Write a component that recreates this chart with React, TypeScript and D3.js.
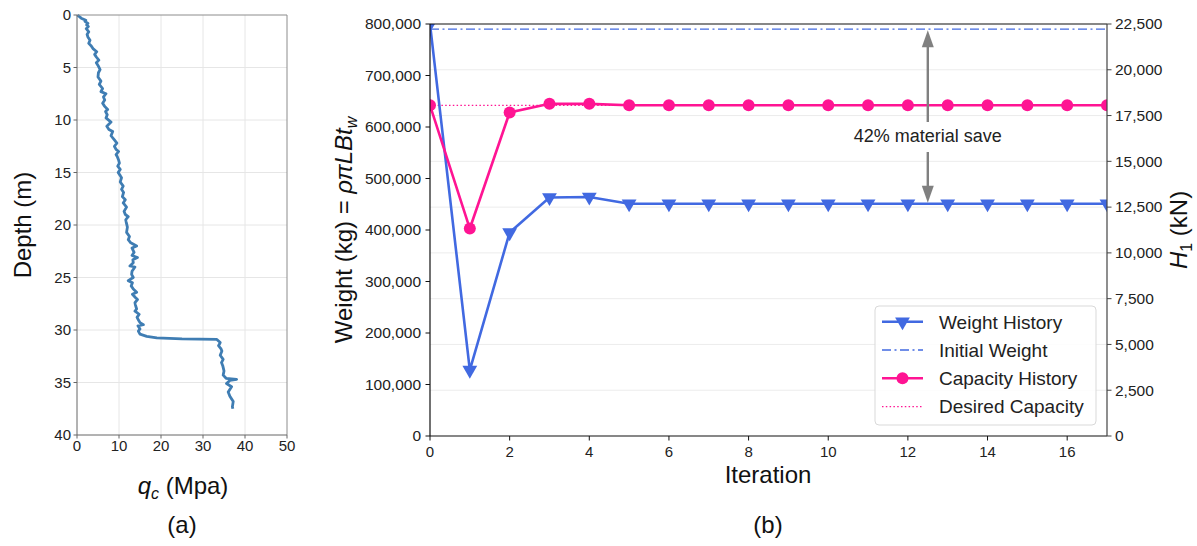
import React from 'react';
import * as d3 from 'd3';

// (a) CPT profile
const cptDepth = [
  0, 0.3, 0.5, 0.6, 0.8, 0.95, 1.1, 1.3, 1.6, 1.85, 2.1, 2.4, 2.7, 2.95, 3.2, 3.5, 3.75, 4.0, 4.3, 4.55,
  4.8, 5.2, 5.5, 5.9, 6.3, 6.6, 7.0, 7.3, 7.5, 7.8, 8.1, 8.4, 8.7, 9.0, 9.2, 9.5, 9.8, 10.2, 10.6, 10.9,
  11.1, 11.5, 11.9, 12.2, 12.5, 12.8, 13.0, 13.3, 13.5, 13.8, 14.1, 14.4, 14.7, 15.0, 15.3, 15.5, 15.9,
  16.3, 16.6, 16.9, 17.3, 17.6, 17.9, 18.3, 18.7, 19.0, 19.2, 19.5, 19.7, 20.2, 20.7, 21.1, 21.4, 21.7,
  22.0, 22.2, 22.6, 22.9, 23.1, 23.3, 23.6, 23.9, 24.0, 24.4, 24.7, 25.0, 25.3, 25.5, 25.8, 26.1, 26.4,
  26.6, 26.9, 27.1, 27.4, 27.6, 28.0, 28.2, 28.5, 28.8, 29.1, 29.3, 29.5, 29.6, 29.9, 30.1, 30.4, 30.6,
  30.75, 30.85, 30.9, 31.2, 31.5, 31.8, 32.0, 32.4, 32.8, 33.1, 33.4, 33.9, 34.3, 34.6, 34.7, 34.8, 35.1,
  35.4, 35.9, 36.3, 36.8, 37.3, 37.5,
];
const cptQc = [
  0.1, 1.0, 2.1, 1.9, 2.6, 2.3, 2.7, 2.2, 2.8, 2.4, 2.6, 3.1, 2.8, 3.4, 3.8, 4.7, 4.2, 4.6, 5.2, 4.6,
  5.0, 5.5, 5.1, 5.0, 5.7, 5.3, 6.1, 5.7, 6.9, 6.3, 6.6, 6.1, 6.6, 7.3, 6.8, 7.2, 6.9, 8.1, 7.1, 7.6,
  8.5, 8.1, 8.9, 9.5, 8.9, 9.3, 9.9, 9.3, 9.6, 9.9, 10.1, 9.7, 10.3, 9.8, 10.3, 10.6, 10.3,
  11.0, 10.6, 11.1, 10.8, 11.5, 11.0, 11.8, 11.2, 11.5, 12.2, 11.6, 11.7, 12.0, 11.8, 12.5, 12.2, 12.8,
  14.2, 13.1, 13.6, 13.1, 14.4, 13.3, 13.4, 12.6, 13.8, 13.1, 13.0, 13.4, 12.2, 13.2, 12.9, 13.4, 14.2,
  13.2, 13.9, 14.4, 13.8, 13.9, 14.2, 13.8, 14.8, 14.3, 14.7, 15.0, 15.8, 14.5, 15.0, 14.6, 15.0, 16.6,
  19.0, 25.0, 33.3, 34.1, 33.7, 34.3, 34.5, 34.1, 34.8, 34.4, 34.7, 35.0, 34.8, 35.5, 38.0, 36.4, 35.6,
  36.8, 36.0, 36.4, 37.2, 37.0, 37.1,
];
const qcTicks = [0, 10, 20, 30, 40, 50];
const depthTicks = [0, 5, 10, 15, 20, 25, 30, 35, 40];

// (b) optimisation history
const iterations = [0, 1, 2, 3, 4, 5, 6, 7, 8, 9, 10, 11, 12, 13, 14, 15, 16, 17];
const weightHistory = [
  800000, 128000, 395000, 463000, 464000, 451000, 451000, 451000, 451000, 451000, 451000, 451000,
  451000, 451000, 451000, 451000, 451000, 451000,
];
const capacityHistory = [
  18060, 11330, 17670, 18140, 18140, 18060, 18060, 18060, 18060, 18060, 18060, 18060, 18060, 18060,
  18060, 18060, 18060, 18060,
];
const initialWeight = 790000;
const desiredCapacity = 18060;
const iterTicks = [0, 2, 4, 6, 8, 10, 12, 14, 16];
const weightTicks = [0, 100000, 200000, 300000, 400000, 500000, 600000, 700000, 800000];
const capTicks = [0, 2500, 5000, 7500, 10000, 12500, 15000, 17500, 20000, 22500];
const saveLabel = '42% material save';
const saveAt = 12.5;
const legendItems = ['Weight History', 'Initial Weight', 'Capacity History', 'Desired Capacity'];

const FONT = '"Liberation Sans", Arial, sans-serif';
const BLUE = '#4169e1';
const PINK = '#ff1493';
const CPT = '#3f7db3';

export default function App() {
  const fmt = d3.format(',');

  // panel (a)
  const xA = d3.scaleLinear().domain([0, 50]).range([77, 287]);
  const yA = d3.scaleLinear().domain([0, 40]).range([15, 435]);
  const cptLine = d3.line<number>()
    .x((_, i) => xA(cptQc[i]))
    .y((d) => yA(d));

  // panel (b)
  const xB = d3.scaleLinear().domain([0, 17]).range([430, 1107]);
  const yL = d3.scaleLinear().domain([0, 800000]).range([436, 24]);
  const yR = d3.scaleLinear().domain([0, 22500]).range([436, 24]);
  const wLine = d3.line<number>().x((d) => xB(d)).y((_, i) => yL(weightHistory[i]));
  const cLine = d3.line<number>().x((d) => xB(d)).y((_, i) => yR(capacityHistory[i]));
  const tri = d3.symbol().type(d3.symbolTriangle).size(95)() as string;

  const [ax0, ax1] = xA.range();
  const [ay1, ay0] = [yA.range()[1], yA.range()[0]];
  const [bx0, bx1] = xB.range();
  const [by1, by0] = yL.range();

  const arrowX = xB(saveAt);
  const topTip = yL(initialWeight);
  const botTip = yL(weightHistory[weightHistory.length - 1]);
  const textY = 142;

  const legX = 875;
  const legY = 306;
  const rowH = 28.3;

  return (
    <div style={{ position: 'absolute', left: 0, top: 0 }}>
      <svg width={1197} height={546} style={{ display: 'block', background: '#fff' }} fontFamily={FONT}>
        <defs>
          <clipPath id="clipB">
            <rect x={bx0} y={by0} width={bx1 - bx0} height={by1 - by0} />
          </clipPath>
        </defs>

        {/* ---------- panel (a) ---------- */}
        {qcTicks.slice(1, -1).map((t) => (
          <line key={'gx' + t} x1={xA(t)} x2={xA(t)} y1={ay0} y2={ay1} stroke="#e6e6e6" />
        ))}
        {depthTicks.slice(1, -1).map((t) => (
          <line key={'gy' + t} x1={ax0} x2={ax1} y1={yA(t)} y2={yA(t)} stroke="#e6e6e6" />
        ))}
        <path d={cptLine(cptDepth) as string} fill="none" stroke={CPT} strokeWidth={2.8} strokeLinejoin="round" />
        <line x1={ax0} x2={ax1} y1={ay0} y2={ay0} stroke="#8c8c8c" />
        <line x1={ax1} x2={ax1} y1={ay0} y2={ay1} stroke="#8c8c8c" />
        <line x1={ax0} x2={ax0} y1={ay0} y2={ay1} stroke="#666" />
        <line x1={ax0} x2={ax1} y1={ay1} y2={ay1} stroke="#666" />
        {qcTicks.map((t) => (
          <g key={'tx' + t}>
            <line x1={xA(t)} x2={xA(t)} y1={ay1} y2={ay1 + 3.5} stroke="#666" />
            <text x={xA(t)} y={451} fontSize={15} textAnchor="middle" fill="#222">{t}</text>
          </g>
        ))}
        {depthTicks.map((t) => (
          <g key={'ty' + t}>
            <line x1={ax0 - 3.5} x2={ax0} y1={yA(t)} y2={yA(t)} stroke="#666" />
            <text x={ax0 - 6} y={yA(t) + 5.3} fontSize={15} textAnchor="end" fill="#222">{t}</text>
          </g>
        ))}
        <text transform={`translate(31,${(ay0 + ay1) / 2}) rotate(-90)`} fontSize={24} textAnchor="middle" fill="#111">
          Depth (m)
        </text>
        <text x={183} y={494} fontSize={24} textAnchor="middle" fill="#111">
          <tspan fontStyle="italic">q</tspan>
          <tspan fontStyle="italic" fontSize={16} dy={5}>c</tspan>
          <tspan dy={-5}> (Mpa)</tspan>
        </text>
        <text x={182} y={533} fontSize={24} textAnchor="middle" fill="#111">(a)</text>

        {/* ---------- panel (b) ---------- */}
        {capTicks.slice(1, -1).map((t) => (
          <line key={'gr' + t} x1={bx0} x2={bx1} y1={yR(t)} y2={yR(t)} stroke="#ececec" />
        ))}

        <g clipPath="url(#clipB)">
          <line x1={bx0} x2={bx1} y1={yL(initialWeight)} y2={yL(initialWeight)} stroke={BLUE}
            strokeWidth={1.3} strokeDasharray="9 3.5 2 3.5" />
          <line x1={bx0} x2={bx1} y1={yR(desiredCapacity)} y2={yR(desiredCapacity)} stroke={PINK}
            strokeWidth={1.3} strokeDasharray="1.5 2.3" />
          <path d={wLine(iterations) as string} fill="none" stroke={BLUE} strokeWidth={2.6} />
          {iterations.map((d, i) => (
            <path key={'wm' + i} d={tri} transform={`translate(${xB(d)},${yL(weightHistory[i])}) rotate(180)`} fill={BLUE} />
          ))}
          <path d={cLine(iterations) as string} fill="none" stroke={PINK} strokeWidth={2.6} />
          {iterations.map((d, i) => (
            <circle key={'cm' + i} cx={xB(d)} cy={yR(capacityHistory[i])} r={6} fill={PINK} />
          ))}
        </g>

        {/* annotation */}
        <g fill="#808080" stroke="#808080">
          <line x1={arrowX} x2={arrowX} y1={textY - 20} y2={topTip + 14} strokeWidth={2.4} />
          <path d={`M${arrowX},${topTip + 1} L${arrowX - 6},${topTip + 18} L${arrowX + 6},${topTip + 18} Z`} stroke="none" />
          <line x1={arrowX} x2={arrowX} y1={textY + 10} y2={botTip - 14} strokeWidth={2.4} />
          <path d={`M${arrowX},${botTip - 1} L${arrowX - 6},${botTip - 18} L${arrowX + 6},${botTip - 18} Z`} stroke="none" />
        </g>
        <text x={arrowX} y={textY} fontSize={18} textAnchor="middle" fill="#222">{saveLabel}</text>

        {/* spines */}
        <line x1={bx0} x2={bx1} y1={by0} y2={by0} stroke="#111" strokeWidth={1.2} />
        <line x1={bx0} x2={bx0} y1={by0} y2={by1} stroke="#111" strokeWidth={1.2} />
        <line x1={bx0} x2={bx1} y1={by1} y2={by1} stroke="#111" strokeWidth={1.2} />
        <line x1={bx1} x2={bx1} y1={by0} y2={by1} stroke="#444" strokeWidth={1.2} />

        {iterTicks.map((t) => (
          <g key={'ix' + t}>
            <line x1={xB(t)} x2={xB(t)} y1={by1} y2={by1 + 4.5} stroke="#111" />
            <text x={xB(t)} y={457} fontSize={15} textAnchor="middle" fill="#222">{t}</text>
          </g>
        ))}
        {weightTicks.map((t) => (
          <g key={'wy' + t}>
            <line x1={bx0 - 4.5} x2={bx0} y1={yL(t)} y2={yL(t)} stroke="#111" />
            <text x={bx0 - 9} y={yL(t) + 5.3} fontSize={15.5} textAnchor="end" fill="#222">{fmt(t)}</text>
          </g>
        ))}
        {capTicks.map((t) => (
          <g key={'cy' + t}>
            <line x1={bx1} x2={bx1 + 4.5} y1={yR(t)} y2={yR(t)} stroke="#444" />
            <text x={bx1 + 8} y={yR(t) + 5.3} fontSize={15.5} textAnchor="start" fill="#222">{fmt(t)}</text>
          </g>
        ))}

        <text x={768} y={483} fontSize={24} textAnchor="middle" fill="#111">Iteration</text>
        <text x={768} y={533} fontSize={24} textAnchor="middle" fill="#111">(b)</text>
        <text transform={`translate(352,${(by0 + by1) / 2}) rotate(-90)`} fontSize={24} textAnchor="middle" fill="#111">
          Weight (kg) = <tspan fontStyle="italic">ρπLBt</tspan>
          <tspan fontStyle="italic" fontSize={16} dy={5}>w</tspan>
        </text>
        <text transform={`translate(1187,${(by0 + by1) / 2}) rotate(-90)`} fontSize={24} textAnchor="middle" fill="#111">
          <tspan fontStyle="italic">H</tspan>
          <tspan fontSize={16} dy={5}>1</tspan>
          <tspan dy={-5}> (kN)</tspan>
        </text>

        {/* legend */}
        <rect x={legX} y={legY} width={221} height={119} rx={4} fill="#fff" fillOpacity={0.85} stroke="#d9d9d9" />
        {legendItems.map((label, i) => {
          const cy = legY + 15.7 + i * rowH;
          return (
            <g key={label}>
              {i === 0 && (
                <>
                  <line x1={882} x2={923} y1={cy} y2={cy} stroke={BLUE} strokeWidth={2.6} />
                  <path d={tri} transform={`translate(902.5,${cy}) rotate(180)`} fill={BLUE} />
                </>
              )}
              {i === 1 && (
                <line x1={882} x2={923} y1={cy} y2={cy} stroke={BLUE} strokeWidth={1.3} strokeDasharray="9 3.5 2 3.5" />
              )}
              {i === 2 && (
                <>
                  <line x1={882} x2={923} y1={cy} y2={cy} stroke={PINK} strokeWidth={2.6} />
                  <circle cx={902.5} cy={cy} r={6} fill={PINK} />
                </>
              )}
              {i === 3 && (
                <line x1={882} x2={923} y1={cy} y2={cy} stroke={PINK} strokeWidth={1.3} strokeDasharray="1.5 2.3" />
              )}
              <text x={939} y={cy + 6.8} fontSize={19} fill="#222">{label}</text>
            </g>
          );
        })}
      </svg>
    </div>
  );
}
